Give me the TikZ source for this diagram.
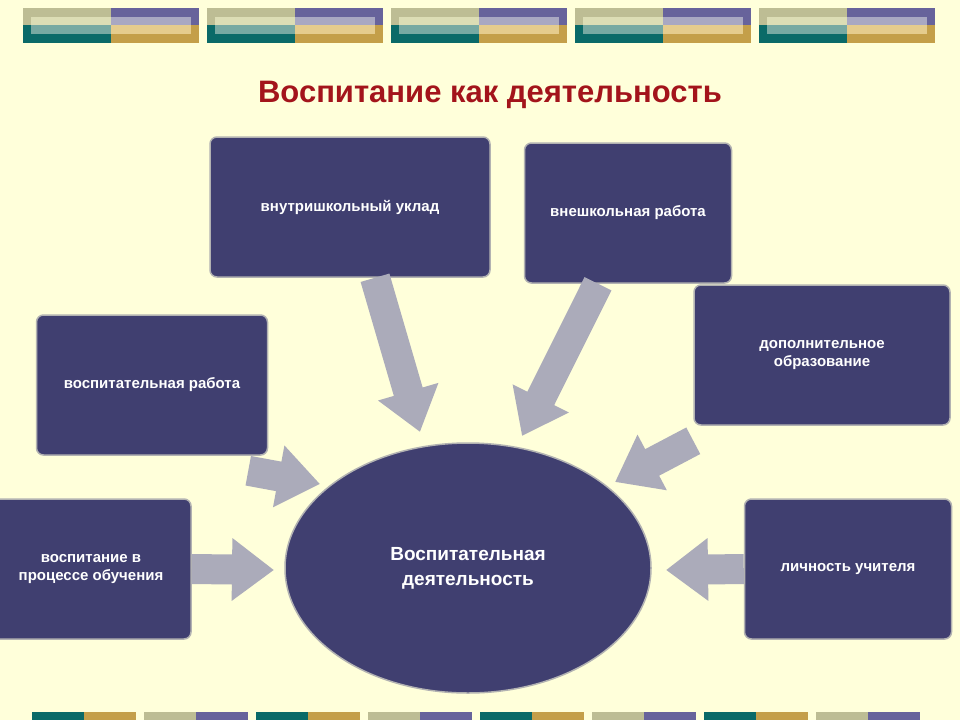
\documentclass[tikz,border=0pt]{standalone}
\usepackage{fontspec}
\setmainfont{Liberation Sans}
\usetikzlibrary{arrows.meta}
\usetikzlibrary{positioning}
\usetikzlibrary{shapes.geometric}
\definecolor{bg}{HTML}{FFFFDA}
\definecolor{navy}{HTML}{403F70}
\definecolor{khaki}{HTML}{BDBD94}
\definecolor{lila}{HTML}{67639B}
\definecolor{teal}{HTML}{0A6A68}
\definecolor{gold}{HTML}{C49F49}
\definecolor{lkhaki}{HTML}{DCDDB5}
\definecolor{llila}{HTML}{A9A8C2}
\definecolor{lteal}{HTML}{77A9A2}
\definecolor{lgold}{HTML}{E5CC8D}
\definecolor{arr}{HTML}{ABABBA}
\definecolor{titlered}{HTML}{A3141B}
\tikzset{
  box/.style={draw=gray!60, line width=1.5pt, fill=navy, rounded corners=7pt, text=white,
    font=\bfseries\fontsize{15}{18}\selectfont, align=center, inner sep=0pt},
  bigarrow/.style={arr, line width=30pt, -{Triangle[width=60pt,length=42pt]}}
}
\begin{document}
\begin{tikzpicture}[x=1pt,y=-1pt]
				\fill[bg] (0,0) rectangle (960,720);
				\useasboundingbox (0,0) rectangle (960,720);
				% top strip
				\foreach \i in {0,...,4} {
					\begin{scope}[xshift=184*\i]
						\fill[khaki] (23,8) rectangle (111,25);
						\fill[lila] (111,8) rectangle (199,25);
						\fill[teal] (23,25) rectangle (111,43);
						\fill[gold] (111,25) rectangle (199,43);
						\fill[lkhaki] (31,17) rectangle (111,25);
						\fill[llila] (111,17) rectangle (191,25);
						\fill[lteal] (31,25) rectangle (111,34);
						\fill[lgold] (111,25) rectangle (191,34);
					\end{scope}
				}
				% bottom strip
				\foreach \i/\ca/\cb in {0/teal/gold,1/khaki/lila,2/teal/gold,3/khaki/lila,4/teal/gold,5/khaki/lila,6/teal/gold,7/khaki/lila} {
					\fill[\ca] (32+112*\i,712) rectangle ++(52,8);
					\fill[\cb] (84+112*\i,712) rectangle ++(52,8);
				}
				\node[text=titlered, font=\bfseries\fontsize{31}{36}\selectfont] (title) at (490,95) {Воспитание как деятельность};

				\coordinate (tipA) at (420,432);
				\coordinate (tipB) at (522,436);
				\coordinate (tipC) at (615,482);
				\coordinate (tipD) at (320,484);
				\coordinate (tipE) at (274,570);
				\coordinate (tipF) at (666,570);

				\node[box, minimum width=280pt, minimum height=140pt] (uklad) at (350,207) {внутришкольный уклад};
				\node[box, minimum width=207pt, minimum height=140pt] (vneshk) at (628,213) {внешкольная работа};
				\node[box, minimum width=256pt, minimum height=140pt] (dopobr) at (822,355) {дополнительное\\образование};
				\node[box, minimum width=231pt, minimum height=140pt] (vosprab) at (152,385) {воспитательная работа};
				\node[box, minimum width=200pt, minimum height=140pt] (obuch) at (91,569) {воспитание в\\процессе обучения};
				\node[box, minimum width=207pt, minimum height=140pt] (lichn) at (848,569) {личность учителя};

				\draw[bigarrow] ([xshift=25pt]uklad.south) -- (tipA);
				\draw[bigarrow] ([xshift=-30pt]vneshk.south) -- (tipB);
				\draw[bigarrow] ([yshift=-15pt]dopobr.south west) -- (tipC);
				\draw[bigarrow] ([xshift=-20pt,yshift=-15pt]vosprab.south east) -- (tipD);
				\draw[bigarrow] (obuch.east) -- (tipE);
				\draw[bigarrow] (lichn.west) -- (tipF);

				\node[ellipse, draw=gray!60, line width=1.5pt, fill=navy, minimum width=366pt, minimum height=250pt,
					text=white, align=center, font=\bfseries\fontsize{19}{25}\selectfont] (center) at (468,568) {Воспитательная\\деятельность};
			\end{tikzpicture}
\end{document}
